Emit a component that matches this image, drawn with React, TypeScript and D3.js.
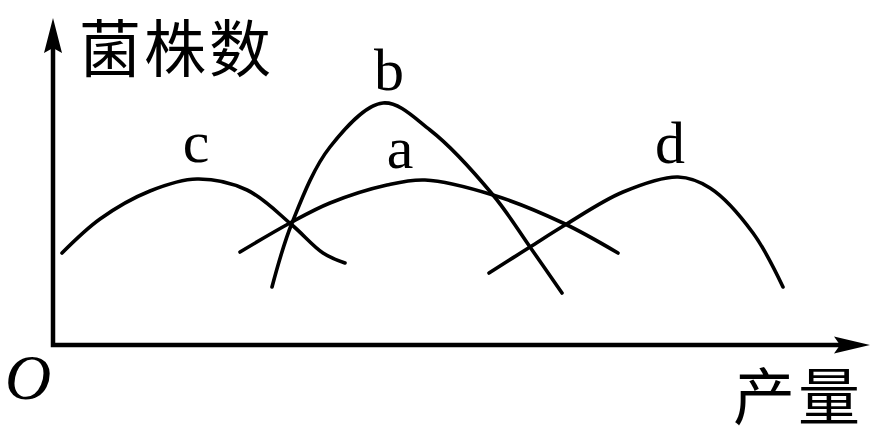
import React, { useRef, useEffect } from 'react';
import * as d3 from 'd3';

// curve samples: x = 产量 units from origin, y = 菌株数 units from origin
const curveC: [number, number][] = [[9, 92], [47, 126], [97, 154], [144, 166], [194, 155], [239, 120], [270, 92], [292, 82]];
const curveB: [number, number][] = [[219, 58], [239, 122], [277, 198], [330, 242], [377, 215], [440, 150], [477, 98], [509, 52]];
const curveA: [number, number][] = [[187, 93], [237, 122], [277, 142], [334, 160], [372, 165], [440, 150], [510, 122], [565, 92]];
const curveD: [number, number][] = [[436, 72], [477, 98], [512, 120], [570, 153], [625, 168], [657, 157], [700, 112], [730, 58]];

const curveNames = ['c', 'b', 'a', 'd'];
const curves = [curveC, curveB, curveA, curveD];
// label anchor per curve (data units)
const labelAt: [number, number][] = [[143, 183], [336, 255], [347, 177], [617, 182]];

const W = 887;
const H = 439;

export default function App() {
  const svgRef = useRef<SVGSVGElement>(null);

  useEffect(() => {
    if (!svgRef.current) return;
    const svg = d3.select(svgRef.current);
    svg.selectAll('*').remove();

    const x = d3.scaleLinear().domain([0, 817]).range([53, 870]);
    const y = d3.scaleLinear().domain([0, 327]).range([345, 18]);

    const g = svg.append('g');

    // axes
    g.append('path')
      .attr('d', `M${x(0)},${y(300)} L${x(0)},${y(0)} L${x(790)},${y(0)}`)
      .attr('fill', 'none')
      .attr('stroke', '#000')
      .attr('stroke-width', 4.5)
      .attr('stroke-linejoin', 'miter');

    // y arrow
    const yt = y(327);
    g.append('path')
      .attr('d', `M${x(0)},${yt} L${x(0) + 9},${yt + 35} L${x(0)},${yt + 30} L${x(0) - 9},${yt + 35} Z`)
      .attr('fill', '#000');
    // x arrow
    const xt = x(817);
    g.append('path')
      .attr('d', `M${xt},${y(0)} L${xt - 36},${y(0) - 8.5} L${xt - 30},${y(0)} L${xt - 36},${y(0) + 8.5} Z`)
      .attr('fill', '#000');

    const line = d3.line<[number, number]>()
      .x(d => x(d[0]))
      .y(d => y(d[1]))
      .curve(d3.curveCatmullRom.alpha(0.5));

    curves.forEach((c, i) => {
      g.append('path')
        .attr('d', line(c) as string)
        .attr('fill', 'none')
        .attr('stroke', '#000')
        .attr('stroke-width', 3.6)
        .attr('stroke-linecap', 'round');

      g.append('text')
        .attr('x', x(labelAt[i][0]))
        .attr('y', y(labelAt[i][1]))
        .attr('text-anchor', 'middle')
        .attr('font-family', '"Liberation Serif", "Times New Roman", serif')
        .attr('font-size', 60)
        .text(curveNames[i]);
    });

    // axis titles
    g.append('text')
      .attr('x', 79)
      .attr('y', 72)
      .attr('font-family', '"Noto Sans CJK SC", sans-serif')
      .attr('font-size', 62)
      .attr('letter-spacing', 3)
      .text('菌株数');

    g.append('text')
      .attr('x', 733)
      .attr('y', 420)
      .attr('font-family', '"Noto Sans CJK SC", sans-serif')
      .attr('font-size', 62)
      .attr('letter-spacing', 3)
      .text('产量');

    g.append('text')
      .attr('x', 28)
      .attr('y', 399)
      .attr('text-anchor', 'middle')
      .attr('font-family', '"Liberation Serif", "Times New Roman", serif')
      .attr('font-style', 'italic')
      .attr('font-size', 64)
      .text('O');
  }, []);

  return (
    <div style={{ position: 'absolute', left: 0, top: 0 }}>
      <svg ref={svgRef} width={W} height={H} style={{ display: 'block', background: '#fff' }} />
    </div>
  );
}
